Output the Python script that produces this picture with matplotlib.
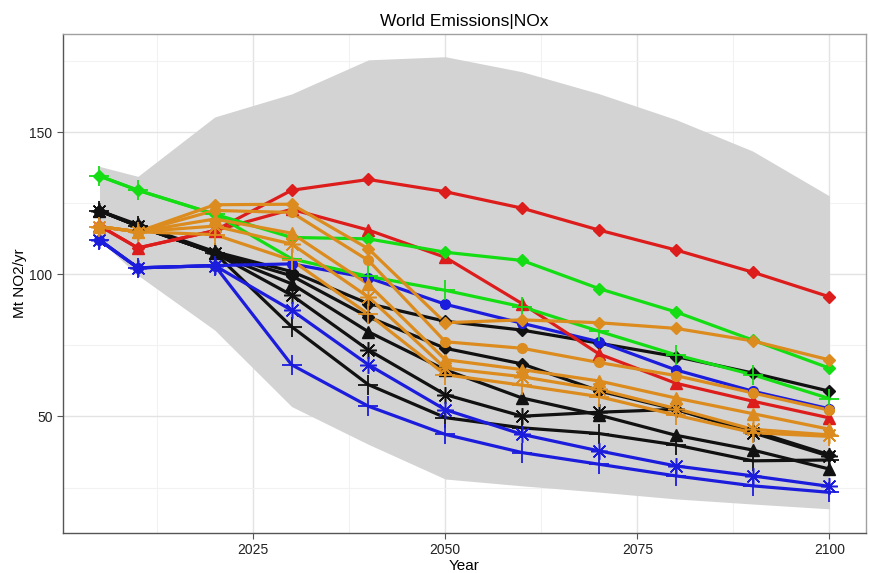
import numpy as np
import matplotlib.pyplot as plt
from matplotlib.ticker import MultipleLocator

plt.rcParams['font.family'] = ['Liberation Sans', 'DejaVu Sans']

# ---- data ----
years = [2005, 2010, 2020, 2030, 2040, 2050, 2060, 2070, 2080, 2090, 2100]

band_low = [112, 99.7, 80.4, 53.5, 40.2, 28, 25.6, 23.4, 21, 19.2, 17.5]
band_high = [138, 134.5, 155.4, 163.5, 175.5, 176.6, 171.3, 163.6, 154.5, 143.4, 127.6]

black_diamond = [122.4, 117.5, 108, 101, 89.7, 83.5, 80.4, 75.8, 71.1, 65.3, 58.9]
black_circle = [122.4, 117, 107.5, 99.5, 85, 74, 68.5, 59, 52.5, 45, 36.5]
black_triangle = [122.4, 117, 107.5, 96.7, 79.8, 66.4, 56.5, 50.5, 43.4, 38.2, 31.5]
black_asterisk = [122.4, 117, 107.5, 92.7, 73.4, 57.7, 50.1, 51.5, 52.5, 44.3, 36]
black_plus = [122.4, 117, 107.5, 81.6, 61.2, 49.6, 46, 44, 40, 34.4, 34.7]

blue_circle = [112.1, 102.3, 103.1, 103.7, 98.8, 89.5, 82.8, 76.3, 66.4, 58.9, 52.7]
blue_asterisk = [112.1, 102.3, 103.1, 87.4, 68.2, 52.4, 43.7, 37.9, 32.6, 29.1, 25.4]
blue_plus = [112.1, 102.3, 103.1, 68.2, 53.6, 43.7, 37.3, 33.2, 29.1, 25.6, 23.3]

red_diamond = [117.1, 109.3, 115.4, 129.6, 133.4, 129.1, 123.3, 115.6, 108.6, 100.8, 92.1]
red_triangle = [117.1, 109.3, 115.4, 122.9, 115.6, 106, 89.7, 72, 61.7, 55.4, 49.5]

green_diamond = [134.6, 129.6, 121.2, 113, 112.5, 107.8, 104.9, 95, 86.8, 76.9, 67]
green_plus = [134.6, 129.6, 121.2, 105.5, 99.3, 94.4, 88.6, 80, 71.7, 64.7, 56.3]

orange_diamond = [116.8, 115, 124.5, 124.7, 109, 83, 84, 83, 81, 76.6, 69.9]
orange_circle = [116.8, 115, 122.5, 121.8, 104.9, 76.3, 74, 69, 64.4, 58.3, 52.2]
orange_triangle = [116.8, 115, 119.5, 114.5, 96.5, 70, 66.5, 62.5, 56.5, 51, 45.5]
orange_asterisk = [116.8, 115, 117, 110.7, 92, 67, 64, 59.5, 52.8, 45.5, 43.5]
orange_plus = [116.8, 115, 114, 105, 86, 64.7, 61, 57, 50.5, 44.3, 43]

# colours / markers
RED = '#DD1C1C'
GREEN = '#14DD14'
BLUE = '#1C1CDD'
BLACK = '#111111'
ORANGE = '#DC8C1E'

ASTER = (8, 2, 0)

series = [
    (black_diamond, BLACK, 'D'),
    (black_circle, BLACK, 'D'),
    (black_triangle, BLACK, '^'),
    (black_asterisk, BLACK, ASTER),
    (black_plus, BLACK, '+'),
    (blue_circle, BLUE, 'o'),
    (blue_asterisk, BLUE, ASTER),
    (blue_plus, BLUE, '+'),
    (red_diamond, RED, 'D'),
    (red_triangle, RED, '^'),
    (green_diamond, GREEN, 'D'),
    (green_plus, GREEN, '+'),
    (orange_diamond, ORANGE, 'D'),
    (orange_circle, ORANGE, 'o'),
    (orange_triangle, ORANGE, '^'),
    (orange_asterisk, ORANGE, ASTER),
    (orange_plus, ORANGE, '+'),
]

marker_size = {'D': 6, 'o': 7, '^': 9, '+': 14}

# ---- plot ----
fig = plt.figure(figsize=(8.7, 5.73), dpi=100)
ax = fig.add_axes([0.0724, 0.0698, 0.9230, 0.8709])

ax.fill_between(years, band_low, band_high, color='#D3D3D3', lw=0, zorder=1)

# lines first, then points on top (like ggplot layers)
for vals, col, mk in series:
    ax.plot(years, vals, color=col, lw=2.3, zorder=2, solid_joinstyle='round')

for vals, col, mk in series:
    if mk == ASTER:
        ax.plot(years, vals, ls='none', marker=mk, ms=12, mew=1.1,
                color=col, zorder=3)
    elif mk == '+':
        ax.plot(years, vals, ls='none', marker=mk, ms=marker_size[mk], mew=1.3,
                color=col, zorder=3)
    else:
        ax.plot(years, vals, ls='none', marker=mk, ms=marker_size[mk],
                mec=col, mfc=col, color=col, zorder=3)

ax.set_xlim(2000.25, 2104.75)
ax.set_ylim(9.0, 184.6)

ax.xaxis.set_major_locator(MultipleLocator(25))
ax.xaxis.set_minor_locator(MultipleLocator(12.5))
ax.yaxis.set_major_locator(MultipleLocator(50))
ax.yaxis.set_minor_locator(MultipleLocator(25))
ax.set_xticks([2025, 2050, 2075, 2100])

ax.grid(which='major', color='#E3E3E3', lw=1.0, zorder=0)
ax.grid(which='minor', color='#F2F2F2', lw=0.8, zorder=0)
ax.set_axisbelow(True)

for s in ax.spines.values():
    s.set_color('#A0A0A0')
    s.set_linewidth(1.0)
ax.spines['left'].set_color('#555555')
ax.spines['bottom'].set_color('#555555')

ax.tick_params(which='major', length=4, width=0.8, color='#555555',
               labelsize=10, labelcolor='#222222')
ax.tick_params(which='minor', length=0)

ax.set_title('World Emissions|NOx', fontsize=12.5, pad=6)
ax.set_xlabel('Year', fontsize=11, labelpad=1)
ax.set_ylabel('Mt NO2/yr', fontsize=11, labelpad=2)

fig.savefig('out.png', dpi=100)
